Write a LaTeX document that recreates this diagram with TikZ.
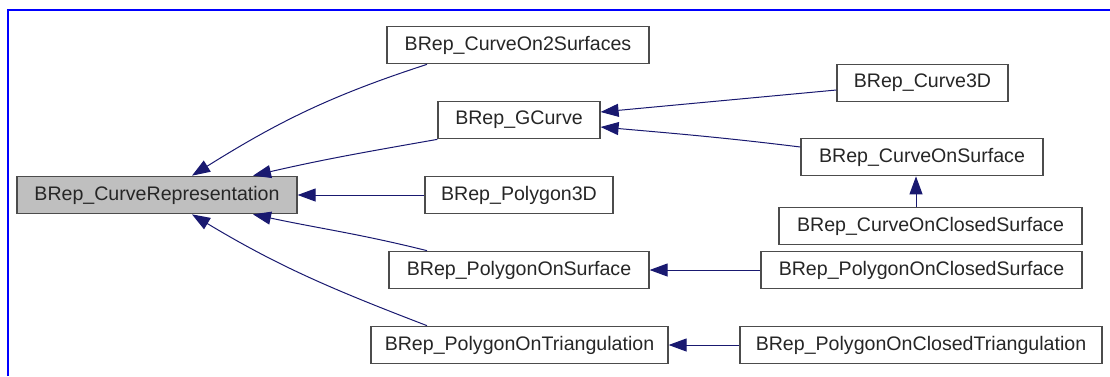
\documentclass[tikz,border=0pt]{standalone}
\usepackage{fontspec}
\setmainfont{Liberation Sans}
\usetikzlibrary{arrows.meta}

\definecolor{edgeblue}{RGB}{25,25,112}
\definecolor{boxgray}{RGB}{191,191,191}

\tikzstyle{classbox} = [draw=black!70, line width=0.6pt, rectangle, minimum height=18.75pt, inner xsep=0pt, inner ysep=0pt, text=black!85, font=\fontsize{9.8}{11}\selectfont]
\tikzstyle{arrow}=[{Triangle[length=9pt, width=6.5pt]}-, draw=edgeblue, line width=0.5pt]

\begin{document}
\begin{tikzpicture}[x=0.5pt, y=0.5pt]
  \useasboundingbox (0,0) rectangle (1110,-376);
  \draw[blue, line width=1pt] (8,-376) -- (8,-9.5) -- (1110,-9.5);

  \node[classbox, fill=boxgray, minimum width=140pt](rep) at (157,-195) {BRep\_CurveRepresentation};
  \node[classbox, minimum width=131pt](on2surf) at (518,-45) {BRep\_CurveOn2Surfaces};
  \node[classbox, minimum width=81pt](gcurve) at (519,-120) {BRep\_GCurve};
  \node[classbox, minimum width=94pt](poly3d) at (519,-195) {BRep\_Polygon3D};
  \node[classbox, minimum width=130pt](polysurf) at (519,-270) {BRep\_PolygonOnSurface};
  \node[classbox, minimum width=148.5pt](polytri) at (519.5,-345) {BRep\_PolygonOnTriangulation};
  \node[classbox, minimum width=85.5pt](curve3d) at (922.5,-83) {BRep\_Curve3D};
  \node[classbox, minimum width=121pt](cursurf) at (922,-157) {BRep\_CurveOnSurface};
  \node[classbox, minimum width=151.5pt](curclosed) at (930.5,-226) {BRep\_CurveOnClosedSurface};
  \node[classbox, minimum width=160.5pt](polyclosed) at (921.5,-270) {BRep\_PolygonOnClosedSurface};
  \node[classbox, minimum width=181pt](triclosed) at (921,-345) {BRep\_PolygonOnClosedTriangulation};

  \draw[arrow] ([xshift=17.5pt]rep.north) to[out=32, in=198] ([xshift=-45.5pt]on2surf.south);
  \draw[arrow] ([xshift=48pt]rep.north) to[out=13, in=190] (gcurve.south west);
  \draw[arrow] (rep.east) -- (poly3d.west);
  \draw[arrow] ([xshift=48pt]rep.south) to[out=-12, in=166] ([xshift=-46pt]polysurf.north);
  \draw[arrow] ([xshift=17.5pt]rep.south) to[out=-31, in=159] ([xshift=-46.25pt]polytri.north);

  \draw[arrow] ([yshift=4pt]gcurve.east) -- ([yshift=-3.5pt]curve3d.west);
  \draw[arrow] ([yshift=-3.5pt]gcurve.east) to[out=-5, in=173] ([yshift=5pt]cursurf.west);
  \draw[arrow] ([xshift=-3pt]cursurf.south) -- ([xshift=-3pt]cursurf.south |- curclosed.north);
  \draw[arrow] (polysurf.east) -- (polyclosed.west);
  \draw[arrow] (polytri.east) -- (triclosed.west);

\end{tikzpicture}
\end{document}
